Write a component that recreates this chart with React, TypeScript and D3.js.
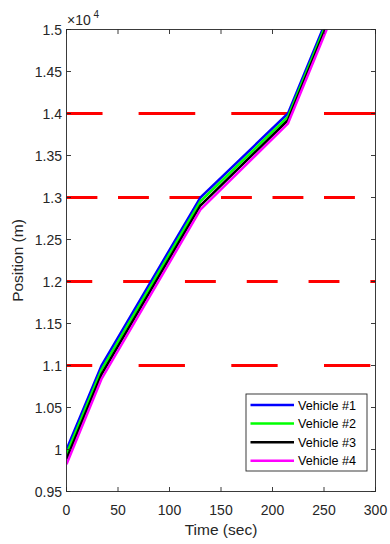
import React from "react";
import * as d3 from "d3";

// Axis ticks
const xTicks = [0, 50, 100, 150, 200, 250, 300];
const yTicks = [9500, 10000, 10500, 11000, 11500, 12000, 12500, 13000, 13500, 14000, 14500, 15000];
const yTickLabels = ["0.95", "1", "1.05", "1.1", "1.15", "1.2", "1.25", "1.3", "1.35", "1.4", "1.45", "1.5"];

// Traffic signals: position (m) and red-phase intervals (sec)
const signalPositions = [11000, 12000, 13000, 14000];
const red11000 = [[0, 25], [70, 115], [160, 205], [250, 295]];
const red12000 = [[0, 25], [55, 85], [115, 145], [175, 205], [235, 265], [295, 300]];
const red13000 = [[0, 30], [50, 80], [100, 130], [150, 180], [200, 230], [250, 280]];
const red14000 = [[0, 35], [70, 125], [160, 215], [250, 300]];
const redPhases = [red11000, red12000, red13000, red14000];

// Vehicle trajectories: positions (m) at common breakpoint times (sec)
const breakTimes = [0, 34, 130, 215, 262];
const vehicle1 = [10000, 11000, 13000, 14000, 15400];
const vehicle2 = [9945, 10950, 12955, 13960, 15360];
const vehicle3 = [9885, 10895, 12905, 13920, 15320];
const vehicle4 = [9825, 10840, 12855, 13880, 15280];
const vehicleNames = ["Vehicle #1", "Vehicle #2", "Vehicle #3", "Vehicle #4"];
const vehicleColors = ["#0000ff", "#00ff00", "#000000", "#ff00ff"];
const vehicles = [vehicle1, vehicle2, vehicle3, vehicle4];

const W = 390;
const H = 544;
const left = 66.5;
const right = 375.5;
const top = 29.5;
const bottom = 491.5;
const axisColor = "#262626";
const font = "'Liberation Sans', Arial, Helvetica, sans-serif";

export default function App() {
  const x = d3.scaleLinear().domain([0, 300]).range([left, right]);
  const y = d3.scaleLinear().domain([9500, 15000]).range([bottom, top]);
  const line = d3
    .line<[number, number]>()
    .x((d) => x(d[0]))
    .y((d) => y(d[1]));
  const tickLen = 4.5;

  const legendX = 246;
  const legendY = 394;
  const legendW = 121;
  const legendH = 77;
  const rowGap = 18.6;

  return (
    <svg
      width={W}
      height={H}
      viewBox={`0 0 ${W} ${H}`}
      style={{ position: "absolute", left: 0, top: 0, background: "#fff" }}
      fontFamily={font}
    >
      <defs>
        <clipPath id="plot-area">
          <rect x={left} y={top} width={right - left} height={bottom - top} />
        </clipPath>
      </defs>
      <rect x={0} y={0} width={W} height={H} fill="#fff" />

      <g clipPath="url(#plot-area)">
        {redPhases.map((phases, i) =>
          phases.map((p, j) => (
            <line
              key={`r${i}-${j}`}
              x1={x(p[0])}
              x2={x(p[1])}
              y1={y(signalPositions[i])}
              y2={y(signalPositions[i])}
              stroke="#ff0000"
              strokeWidth={3}
            />
          ))
        )}
        {vehicles.map((pos, i) => (
          <path
            key={`v${i}`}
            d={line(breakTimes.map((t, k) => [t, pos[k]] as [number, number])) || ""}
            fill="none"
            stroke={vehicleColors[i]}
            strokeWidth={2.5}
            strokeLinejoin="miter"
          />
        ))}
      </g>

      {/* axes box */}
      <rect x={left} y={top} width={right - left} height={bottom - top} fill="none" stroke={axisColor} strokeWidth={0.9} />

      {xTicks.map((t) => (
        <g key={`xt${t}`}>
          <line x1={x(t)} x2={x(t)} y1={bottom} y2={bottom - tickLen} stroke={axisColor} strokeWidth={0.9} />
          <line x1={x(t)} x2={x(t)} y1={top} y2={top + tickLen} stroke={axisColor} strokeWidth={0.9} />
          <text x={x(t)} y={515} textAnchor="middle" fontSize={14} fill={axisColor}>
            {t}
          </text>
        </g>
      ))}

      {yTicks.map((t, i) => (
        <g key={`yt${t}`}>
          <line x1={left} x2={left + tickLen} y1={y(t)} y2={y(t)} stroke={axisColor} strokeWidth={0.9} />
          <line x1={right} x2={right - tickLen} y1={y(t)} y2={y(t)} stroke={axisColor} strokeWidth={0.9} />
          <text x={62} y={y(t)} dy="0.36em" textAnchor="end" fontSize={14} fill={axisColor}>
            {yTickLabels[i]}
          </text>
        </g>
      ))}

      {/* exponent label */}
      <text x={67} y={25} fontSize={14} fill={axisColor}>
        ×10
      </text>
      <text x={93.5} y={18} fontSize={10} fill={axisColor}>
        4
      </text>

      <text x={(left + right) / 2} y={535} textAnchor="middle" fontSize={15.5} fill={axisColor}>
        Time (sec)
      </text>
      <text
        transform={`translate(23, ${(top + bottom) / 2}) rotate(-90)`}
        textAnchor="middle"
        fontSize={15.5}
        fill={axisColor}
      >
        Position (m)
      </text>

      {/* legend */}
      <rect x={legendX} y={legendY} width={legendW} height={legendH} fill="#fff" stroke={axisColor} strokeWidth={0.9} />
      {vehicleNames.map((name, i) => {
        const ry = legendY + 11 + i * rowGap;
        return (
          <g key={name}>
            <line x1={250.5} x2={294} y1={ry} y2={ry} stroke={vehicleColors[i]} strokeWidth={2.5} />
            <text x={298} y={ry} dy="0.36em" fontSize={12.6} fill="#000">
              {name}
            </text>
          </g>
        );
      })}
    </svg>
  );
}
